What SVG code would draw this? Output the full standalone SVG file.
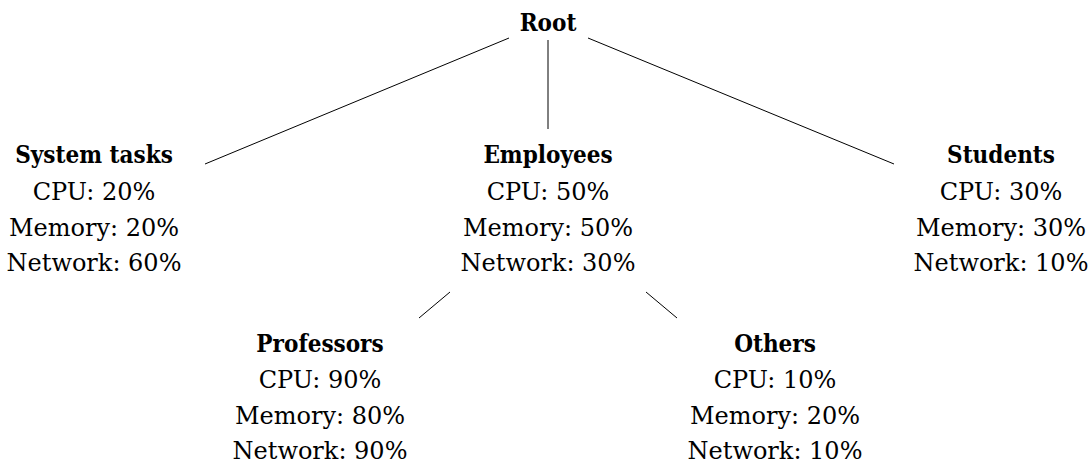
<svg xmlns="http://www.w3.org/2000/svg" width="1092" height="464" viewBox="0 0 1092 464">
<style>
text{font-family:"DejaVu Serif",serif;font-size:24px;text-anchor:middle;fill:#000}
.h{font-weight:bold;font-stretch:condensed}
.e{stroke:#000;stroke-width:1;fill:none}
</style>
<rect width="1092" height="464" fill="#fff"/>
<g id="edges">
<line class="e" x1="509" y1="38" x2="205" y2="164"/>
<line class="e" x1="548" y1="40" x2="548" y2="129"/>
<line class="e" x1="588" y1="38" x2="894" y2="164"/>
<line class="e" x1="450" y1="292" x2="419" y2="318"/>
<line class="e" x1="646" y1="292" x2="677" y2="318"/>
</g>
<g id="root"><text class="h" x="548" y="31">Root</text></g>
<g id="system"><text class="h" x="94" y="163">System tasks</text><text x="94" y="200">CPU: 20%</text><text x="94" y="236">Memory: 20%</text><text x="94" y="271">Network: 60%</text></g>
<g id="employees"><text class="h" x="548" y="163">Employees</text><text x="548" y="200">CPU: 50%</text><text x="548" y="236">Memory: 50%</text><text x="548" y="271">Network: 30%</text></g>
<g id="students"><text class="h" x="1001" y="163">Students</text><text x="1001" y="200">CPU: 30%</text><text x="1001" y="236">Memory: 30%</text><text x="1001" y="271">Network: 10%</text></g>
<g id="professors"><text class="h" x="320" y="352">Professors</text><text x="320" y="388">CPU: 90%</text><text x="320" y="424">Memory: 80%</text><text x="320" y="459">Network: 90%</text></g>
<g id="others"><text class="h" x="775" y="352">Others</text><text x="775" y="388">CPU: 10%</text><text x="775" y="424">Memory: 20%</text><text x="775" y="459">Network: 10%</text></g>
</svg>
